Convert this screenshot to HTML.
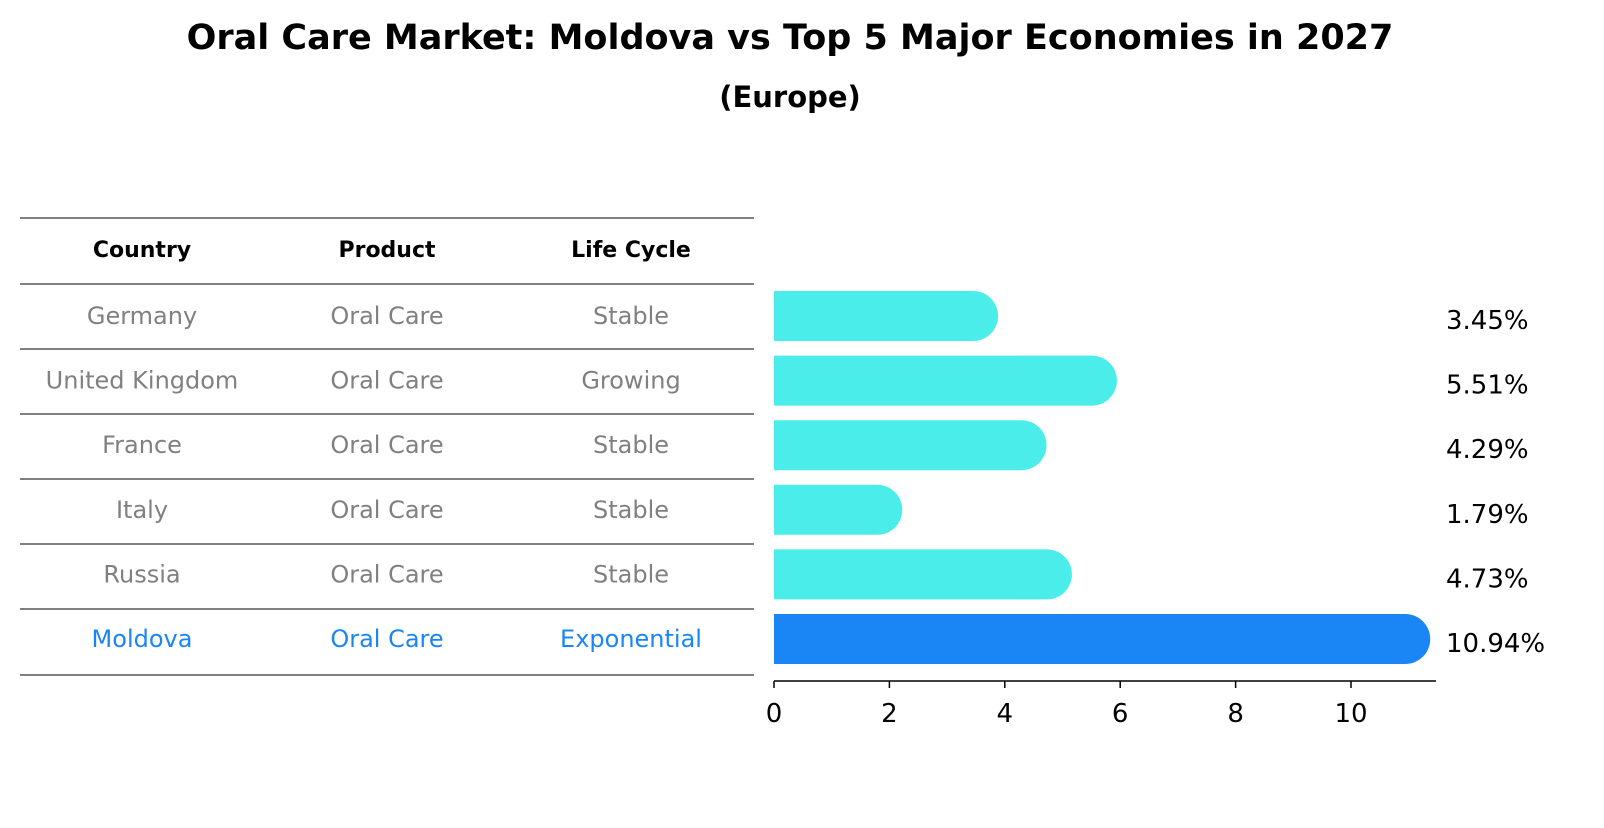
<!DOCTYPE html>
<html><head><meta charset="utf-8"><style>
body{margin:0;background:#fff;font-family:"Liberation Sans","DejaVu Sans",sans-serif;}
</style></head><body>
<svg width="1604" height="823" xmlns="http://www.w3.org/2000/svg" font-family="DejaVu Sans, Liberation Sans, sans-serif">
<text x="790" y="49" text-anchor="middle" font-size="35" font-weight="bold">Oral Care Market: Moldova vs Top 5 Major Economies in 2027</text>
<text x="790" y="107" text-anchor="middle" font-size="29" font-weight="bold">(Europe)</text>
<g id="table"></g>
<g id="bars"></g>
<g id="axis"></g>
</svg>
<script>
const countries=["Germany","United Kingdom","France","Italy","Russia","Moldova"];
const products=["Oral Care","Oral Care","Oral Care","Oral Care","Oral Care","Oral Care"];
const lifeCycles=["Stable","Growing","Stable","Stable","Stable","Exponential"];
const values=[3.45,5.51,4.29,1.79,4.73,10.94];
const ticks=[0,2,4,6,8,10];
const NS="http://www.w3.org/2000/svg";
function mk(t,a,p,txt){const e=document.createElementNS(NS,t);for(const k in a)e.setAttribute(k,a[k]);if(txt!=null)e.textContent=txt;p.appendChild(e);return e;}
const x0=774,scale=57.7;
const xs=v=>x0+v*scale;
const rowY=i=>316+i*64.6;
const tbl=document.getElementById('table'),bars=document.getElementById('bars'),ax=document.getElementById('axis');
const cols=[142,387,631];
const lines=[218,284,349,414,479,544,609,675];
lines.forEach((y,i)=>{const l=mk('line',{x1:20,x2:754,y1:y,y2:y,stroke:'#000','stroke-width':1},tbl);

});
["Country","Product","Life Cycle"].forEach((h,j)=>{const t=mk('text',{x:cols[j],y:257,'text-anchor':'middle','font-size':22,'font-weight':'bold'},tbl,h);

});
countries.forEach((c,i)=>{
 const col=i===countries.length-1?'#1a86f5':'#808080';
 [c,products[i],lifeCycles[i]].forEach((s,j)=>{const t=mk('text',{x:cols[j],y:rowY(i)+8,'text-anchor':'middle','font-size':24,fill:col},tbl,s);
 
 });
 const h=50,y=rowY(i)-h/2,w=xs(values[i])-x0;
 const p=mk('path',{d:`M${x0},${y}h${w}a${h/2},${h/2} 0 0 1 0,${h}h${-w}z`,fill:i===countries.length-1?'#1a86f5':'#4aede9'},bars);
 
 
 const t=mk('text',{x:1446,y:rowY(i)+13,'font-size':26},bars,values[i].toFixed(2)+'%');
 
 
});
const al=mk('line',{x1:x0,x2:1436,y1:681,y2:681,stroke:'#000','stroke-width':1.5},ax);


ticks.forEach(v=>{const l=mk('line',{x1:xs(v),x2:xs(v),y1:681,y2:688,stroke:'#000','stroke-width':1.5},ax);


const t=mk('text',{x:xs(v),y:722,'text-anchor':'middle','font-size':26},ax,String(v));

});
</script>
</body></html>
